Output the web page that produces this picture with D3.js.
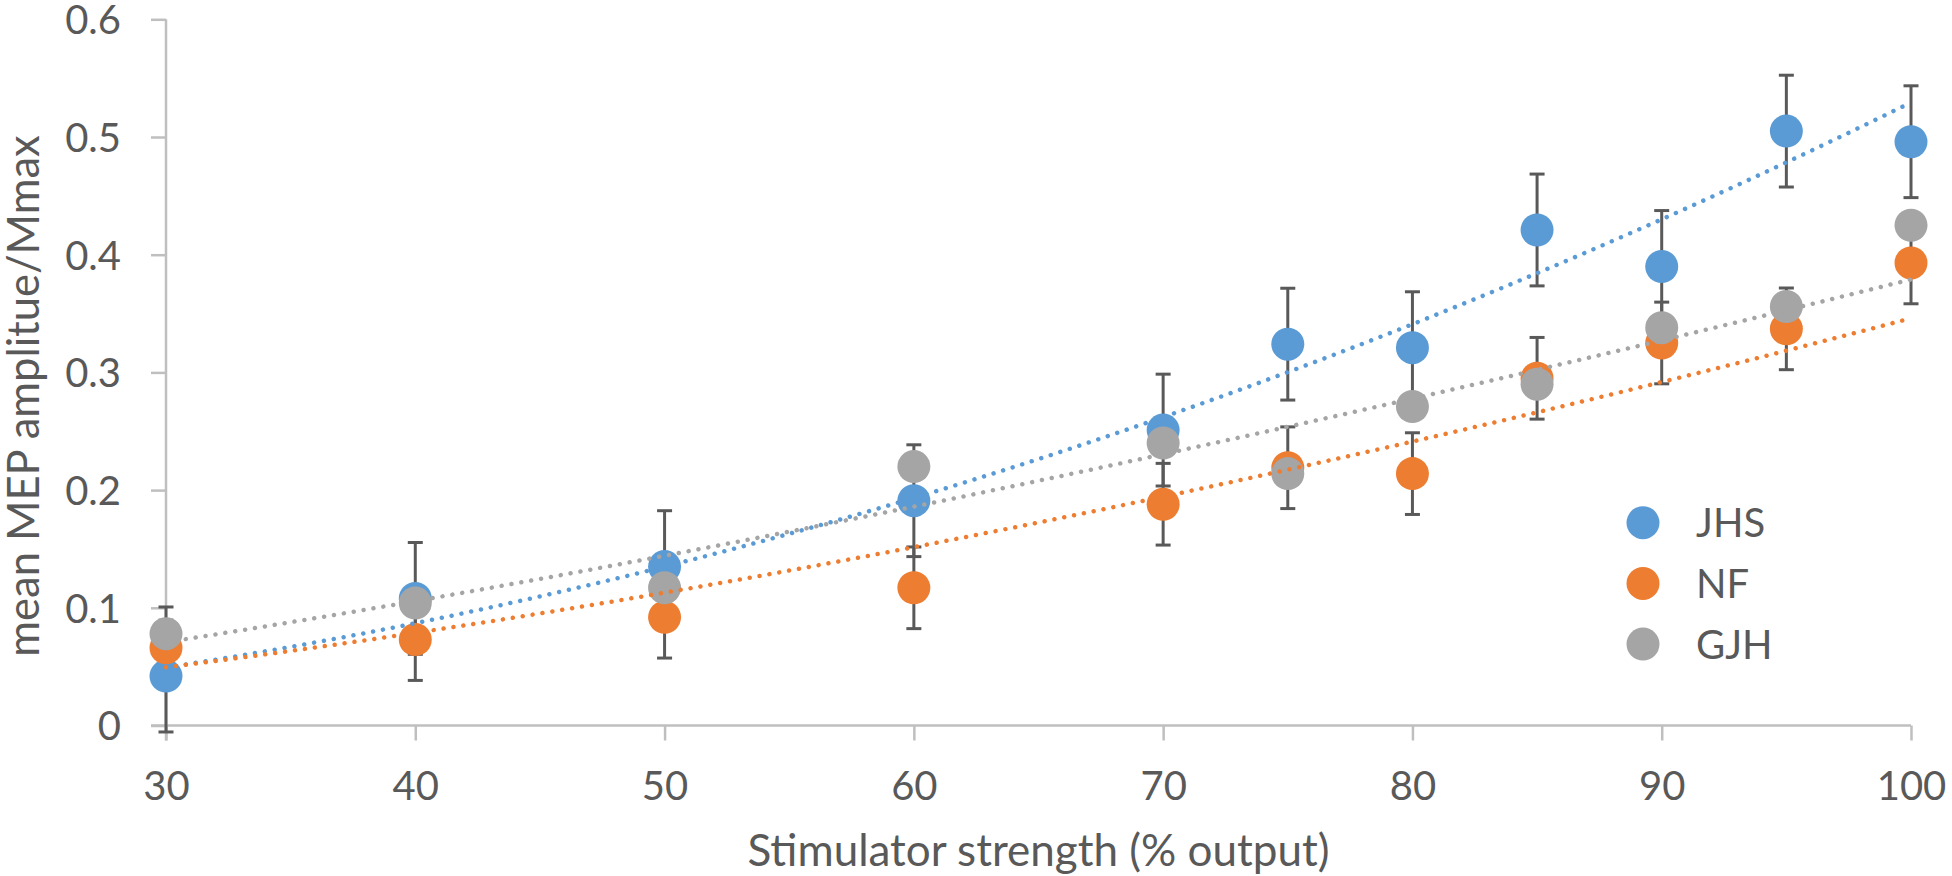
<!DOCTYPE html>
<html>
<head>
<meta charset="utf-8">
<script src="https://cdn.jsdelivr.net/npm/d3@7"></script>
<style>
  html, body { margin: 0; padding: 0; background: #fff; }
  svg { display: block; }
  text { font-family: Lato, "Noto Sans", sans-serif; fill: #595959; }
</style>
</head>
<body>
<svg id="chart" width="1952" height="876"></svg>
<script>
// ---- data ----
const stimulus = [30, 40, 50, 60, 70, 75, 80, 85, 90, 95, 100];
const seriesNames = ["JHS", "NF", "GJH"];
const jhs = [0.042, 0.108, 0.135, 0.191, 0.251, 0.324, 0.321, 0.421, 0.390, 0.505, 0.496];
const nf  = [0.066, 0.073, 0.092, 0.117, 0.188, 0.219, 0.214, 0.295, 0.325, 0.337, 0.393];
const gjh = [0.078, 0.104, 0.117, 0.220, 0.240, 0.214, 0.271, 0.290, 0.338, 0.356, 0.425];
const jhsErr = 0.0475;   // constant error bar (standard error)
const nfErr = 0.0347;
const xTicks = [30, 40, 50, 60, 70, 80, 90, 100];
const yTicks = [0, 0.1, 0.2, 0.3, 0.4, 0.5, 0.6];
const xTitle = "Stimulator strength (% output)";
const yTitle = "mean MEP amplitue/Mmax";

const colors = { JHS: "#5B9BD5", NF: "#ED7D31", GJH: "#A5A5A5" };
const series = [
  { name: "JHS", values: jhs, err: jhsErr },
  { name: "NF", values: nf, err: nfErr },
  { name: "GJH", values: gjh, err: null }
];

const svg = d3.select("#chart");
const x = d3.scaleLinear().domain([30, 100]).range([166, 1911]);
const y = d3.scaleLinear().domain([0, 0.6]).range([725.5, 19.3]);
const axisColor = "#BFBFBF";
const fontSize = 40;
const titleSize = 44;

// axis lines
svg.append("line")
  .attr("x1", x(30) - 15).attr("x2", x(100))
  .attr("y1", y(0)).attr("y2", y(0))
  .attr("stroke", axisColor).attr("stroke-width", 2.5);
svg.append("line")
  .attr("x1", x(30)).attr("x2", x(30))
  .attr("y1", y(0.6)).attr("y2", y(0) + 15)
  .attr("stroke", axisColor).attr("stroke-width", 2.5);

// x axis
const gx = svg.append("g").attr("transform", `translate(0,${y(0)})`)
  .call(d3.axisBottom(x).tickValues(xTicks).tickSize(15).tickSizeOuter(0).tickFormat(d3.format("d")));
gx.select(".domain").remove();
gx.selectAll(".tick line").attr("stroke", axisColor).attr("stroke-width", 2.5);
gx.selectAll(".tick text").attr("y", 74).attr("dy", null)
  .style("font-size", fontSize + "px").attr("fill", "#595959").style("font-family", "Lato");

// y axis
const gy = svg.append("g").attr("transform", `translate(${x(30)},0)`)
  .call(d3.axisLeft(y).tickValues(yTicks).tickSize(15).tickSizeOuter(0)
    .tickFormat(d => d === 0 ? "0" : d3.format(".1f")(d)));
gy.select(".domain").remove();
gy.selectAll(".tick line").attr("stroke", axisColor).attr("stroke-width", 2.5);
gy.selectAll(".tick text").attr("x", -45).attr("dy", "0.36em")
  .style("font-size", fontSize + "px").attr("fill", "#595959").style("font-family", "Lato");

// error bars (below markers)
const gErr = svg.append("g");
series.filter(s => s.err !== null).forEach(s => {
  s.values.forEach((v, i) => {
    const cx = x(stimulus[i]);
    const y1 = y(v + s.err), y2 = y(v - s.err);
    gErr.append("line").attr("x1", cx).attr("x2", cx).attr("y1", y1).attr("y2", y2)
      .attr("stroke", "#595959").attr("stroke-width", 3);
    [y1, y2].forEach(yy => gErr.append("line")
      .attr("x1", cx - 7.5).attr("x2", cx + 7.5).attr("y1", yy).attr("y2", yy)
      .attr("stroke", "#595959").attr("stroke-width", 3));
  });
});

// markers
series.forEach(s => {
  svg.append("g").selectAll("circle").data(s.values).join("circle")
    .attr("cx", (d, i) => x(stimulus[i]))
    .attr("cy", d => y(d))
    .attr("r", 16.5)
    .attr("fill", colors[s.name]);
});

// power trend lines (least squares in log-log space, like a spreadsheet power trendline)
function powerFit(xs, ys) {
  const lx = xs.map(Math.log), ly = ys.map(Math.log);
  const mx = d3.mean(lx), my = d3.mean(ly);
  let sxy = 0, sxx = 0;
  lx.forEach((v, i) => { sxy += (v - mx) * (ly[i] - my); sxx += (v - mx) * (v - mx); });
  const b = sxy / sxx;
  const a = Math.exp(my - b * mx);
  return t => a * Math.pow(t, b);
}
const trendX = d3.range(30, 100.001, 0.5);
const line = d3.line().x(d => x(d[0])).y(d => y(d[1]));
series.forEach(s => {
  const f = powerFit(stimulus, s.values);
  svg.append("path")
    .attr("d", line(trendX.map(t => [t, f(t)])))
    .attr("fill", "none")
    .attr("stroke", colors[s.name])
    .attr("stroke-width", 4.5)
    .attr("stroke-linecap", "round")
    .attr("stroke-dasharray", "0.01 10");
});

// legend
const legend = svg.append("g");
seriesNames.forEach((name, i) => {
  const ly = 522.7 + i * 60.7;
  legend.append("circle").attr("cx", 1643).attr("cy", ly).attr("r", 16.5).attr("fill", colors[name]);
  legend.append("text").attr("x", 1696).attr("y", ly).attr("dy", "0.36em")
    .style("font-size", fontSize + "px").text(name);
});

// axis titles
svg.append("text")
  .attr("x", (x(30) + x(100)) / 2).attr("y", 866)
  .attr("text-anchor", "middle")
  .style("font-size", titleSize + "px")
  .text(xTitle);
svg.append("text")
  .attr("transform", `translate(39,396) rotate(-90)`)
  .attr("text-anchor", "middle")
  .style("font-size", (titleSize - 0.5) + "px")
  .text(yTitle);
</script>
</body>
</html>
